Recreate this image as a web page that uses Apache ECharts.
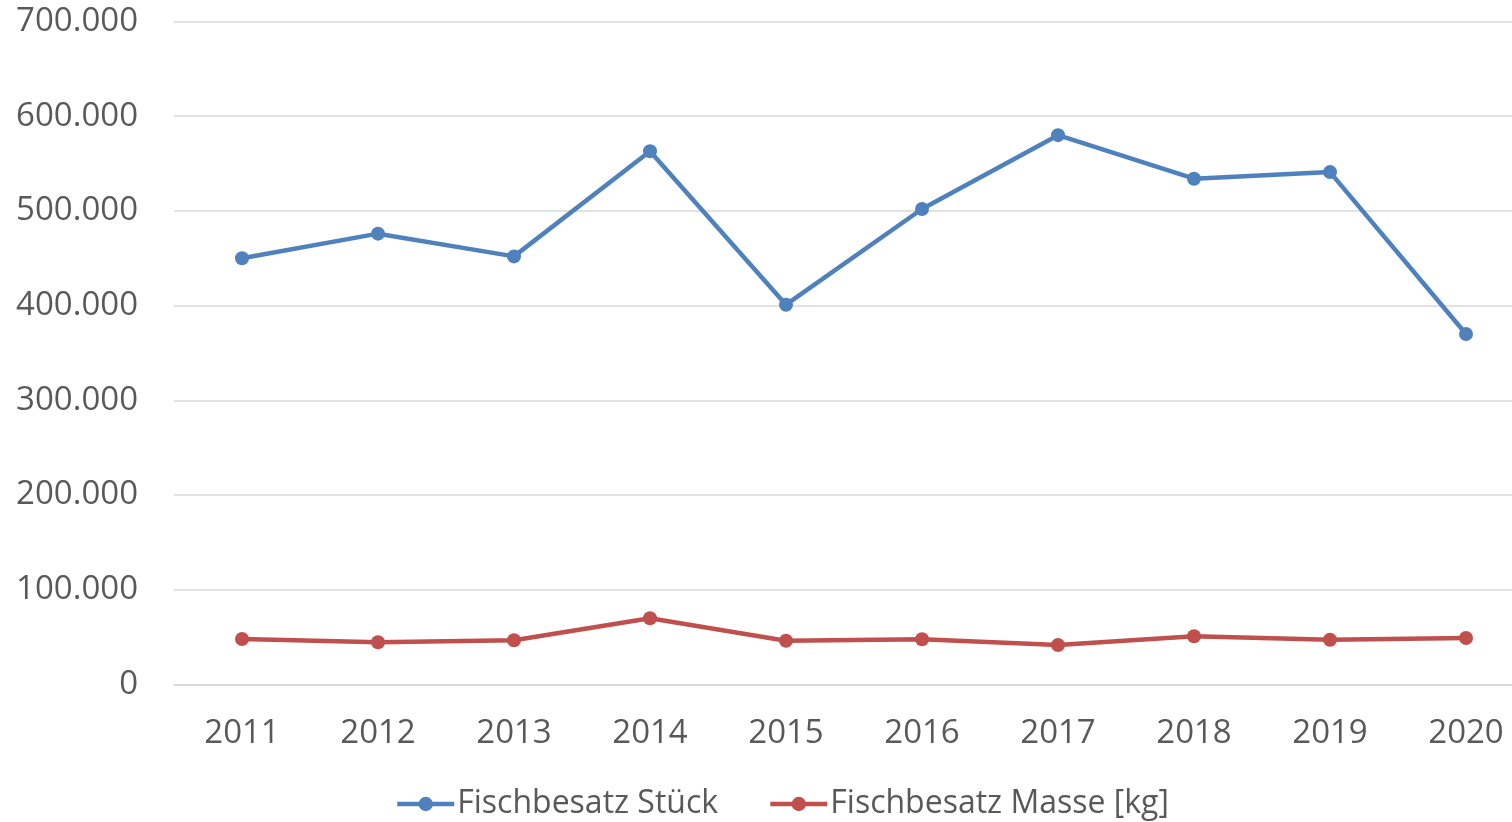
<!DOCTYPE html>
<html>
<head>
<meta charset="utf-8">
<script src="https://cdn.jsdelivr.net/npm/echarts@6/dist/echarts.min.js"></script>
<style>html,body{margin:0;padding:0;background:#fff;}#c{width:1512px;height:822px;}</style>
</head>
<body>
<div id="c"></div>
<script>
const categories = ['2011','2012','2013','2014','2015','2016','2017','2018','2019','2020'];
const stueck = [450000, 476000, 452000, 563000, 401000, 502000, 580000, 534000, 541000, 370000];
const masse = [48000, 44600, 46700, 69900, 46200, 47700, 41700, 50900, 47300, 49100];
const seriesNames = ['Fischbesatz Stück', 'Fischbesatz Masse [kg]'];

const FONT = '"Open Sans", "Noto Sans", sans-serif';
const chart = echarts.init(document.getElementById('c'), null, {renderer: 'canvas'});
function fmt(v) {
  return String(v).replace(/\B(?=(\d{3})+(?!\d))/g, '.');
}
chart.setOption({
  animation: false,
  backgroundColor: '#ffffff',
  grid: {left: 174, width: 1360, top: 21.5, bottom: 137.5, containLabel: false, outerBoundsMode: 'none'},
  legend: {
    left: 390, top: 783,
    itemWidth: 57, itemHeight: 18, itemGap: 50,
    data: seriesNames,
    lineStyle: {width: 4.5},
    textStyle: {fontFamily: FONT, fontSize: 32, color: '#595959', padding: [0,0,0,-2]}
  },
  xAxis: {
    type: 'category',
    data: categories,
    boundaryGap: true,
    axisLine: {show: true, lineStyle: {color: '#d9d9d9', width: 1.5}},
    axisTick: {show: false},
    axisLabel: {fontFamily: FONT, fontSize: 33, color: '#595959', margin: 33}
  },
  yAxis: {
    type: 'value',
    min: 0, max: 700000, interval: 100000,
    axisLine: {show: false},
    axisTick: {show: false},
    splitLine: {lineStyle: {color: '#d9d9d9', width: 1.5}},
    axisLabel: {fontFamily: FONT, fontSize: 33, color: '#595959', margin: 36, formatter: fmt, padding: [4, 0, 0, 0]}
  },
  series: [
    {
      name: seriesNames[0], type: 'line', data: stueck,
      symbol: 'circle', symbolSize: 14,
      lineStyle: {color: '#4F81BD', width: 4.5},
      itemStyle: {color: '#4F81BD'}
    },
    {
      name: seriesNames[1], type: 'line', data: masse,
      symbol: 'circle', symbolSize: 14,
      lineStyle: {color: '#C0504D', width: 4.5},
      itemStyle: {color: '#C0504D'}
    }
  ]
});
</script>
</body>
</html>
